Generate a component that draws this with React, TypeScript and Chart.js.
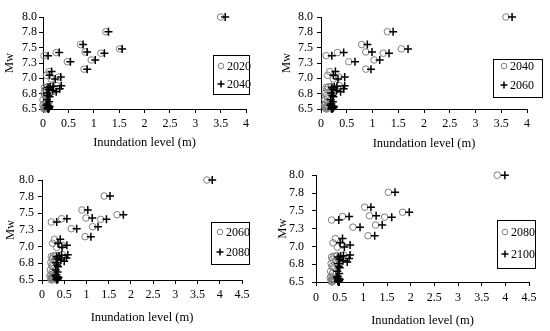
import React, { useEffect, useRef } from "react";
import { Chart, registerables } from "chart.js";

Chart.register(...registerables);

// ---- data ----
const YEARS = ["2020", "2040", "2060", "2080", "2100"];
const MW = [8.0, 7.76, 7.55, 7.43, 7.41, 7.48, 7.42, 7.37, 7.27, 7.3, 7.15, 7.11, 7.05, 7.02, 6.99,
  6.88, 6.87, 6.86, 6.85, 6.83, 6.82, 6.8, 6.78, 6.76, 6.72, 6.7, 6.65, 6.62, 6.58, 6.56, 6.55, 6.54, 6.53, 6.52, 6.51, 6.5];
const INUND_2020 = [3.5, 1.24, 0.74, 0.83, 1.14, 1.51, 0.26, 0.02, 0.48, 0.95, 0.81, 0.12, 0.07, 0.3, 0.16,
  0.28, 0.14, 0.08, 0.03, 0.24, 0.05, 0.12, 0.18, 0.02, 0.04, 0.08, 0.0, 0.06, 0.02, 0.0, 0.05, 0.08, 0.03, 0.06, 0.01, 0.04];
const INUND_2040 = [3.59, 1.29, 0.79, 0.87, 1.21, 1.56, 0.32, 0.1, 0.54, 1.03, 0.87, 0.17, 0.13, 0.35, 0.24,
  0.36, 0.2, 0.14, 0.1, 0.33, 0.12, 0.19, 0.26, 0.08, 0.1, 0.13, 0.08, 0.12, 0.09, 0.07, 0.11, 0.13, 0.1, 0.12, 0.09, 0.11];
const INUND_2060 = [3.71, 1.4, 0.9, 0.99, 1.32, 1.69, 0.44, 0.21, 0.66, 1.14, 0.97, 0.28, 0.24, 0.46, 0.33,
  0.46, 0.31, 0.26, 0.21, 0.44, 0.23, 0.3, 0.38, 0.2, 0.22, 0.24, 0.19, 0.23, 0.2, 0.18, 0.22, 0.25, 0.21, 0.24, 0.2, 0.22];
const INUND_2080 = [3.83, 1.53, 1.03, 1.13, 1.45, 1.83, 0.56, 0.33, 0.78, 1.26, 1.1, 0.41, 0.36, 0.56, 0.45,
  0.58, 0.44, 0.38, 0.33, 0.55, 0.35, 0.42, 0.5, 0.32, 0.34, 0.36, 0.31, 0.35, 0.32, 0.3, 0.34, 0.37, 0.33, 0.36, 0.32, 0.34];
const INUND_2100 = [3.99, 1.67, 1.16, 1.27, 1.6, 1.97, 0.7, 0.48, 0.93, 1.4, 1.24, 0.56, 0.51, 0.72, 0.6,
  0.72, 0.58, 0.52, 0.47, 0.7, 0.5, 0.57, 0.66, 0.47, 0.48, 0.5, 0.45, 0.49, 0.46, 0.44, 0.48, 0.5, 0.47, 0.49, 0.46, 0.48];
const INUND = [INUND_2020, INUND_2040, INUND_2060, INUND_2080, INUND_2100];
const Y_TICK_LABELS = ["6.5", "6.8", "7.0", "7.3", "7.5", "7.8", "8.0"];
const X_TICK_LABELS = ["0", "0.5", "1", "1.5", "2", "2.5", "3", "3.5", "4", "4.5"];
const X_TITLE = "Inundation level (m)";
const Y_TITLE = "Mw";

// ---- layout ----
const FONT_FAMILY = "'Liberation Serif', 'Times New Roman', serif";

type PanelCfg = {
  left: number; top: number; w: number; h: number;
  area: { l: number; t: number; r: number; b: number };
  xMax: number; yearA: number;
  xTitlePad: number; yTitlePad: number; yTickPad: number; xTickPad: number;
  legend: { x: number; y: number; w: number; h: number; mx: number; tx: number; y1: number; y2: number };
};

const PANELS: PanelCfg[] = [
  { left: 0, top: 0, w: 275, h: 160, area: { l: 43, t: 17, r: 246, b: 109 }, xMax: 4, yearA: 0,
    xTitlePad: 10, yTitlePad: 2, yTickPad: 2, xTickPad: 4,
    legend: { x: 213, y: 55, w: 36, h: 39, mx: 221, tx: 227, y1: 66, y2: 84 } },
  { left: 275, top: 0, w: 275, h: 160, area: { l: 46, t: 17, r: 252, b: 109 }, xMax: 4, yearA: 1,
    xTitlePad: 9, yTitlePad: 4, yTickPad: 4, xTickPad: 4,
    legend: { x: 218, y: 59, w: 49, h: 38, mx: 229, tx: 235, y1: 66, y2: 85 } },
  { left: 0, top: 160, w: 275, h: 171, area: { l: 42, t: 20, r: 242, b: 120 }, xMax: 4.5, yearA: 2,
    xTitlePad: 6, yTitlePad: 3, yTickPad: 4, xTickPad: 4,
    legend: { x: 211, y: 62, w: 38, h: 42, mx: 220, tx: 226, y1: 72, y2: 92 } },
  { left: 275, top: 160, w: 275, h: 171, area: { l: 41, t: 14, r: 254, b: 122 }, xMax: 4.5, yearA: 3,
    xTitlePad: 3, yTitlePad: 0, yTickPad: 8, xTickPad: 5,
    legend: { x: 222, y: 60, w: 38, h: 48, mx: 230, tx: 236, y1: 72, y2: 94 } },
];

const legendBoxPlugin = {
  id: "legendBox",
  afterDraw(chart: any, _args: any, opts: any) {
    const lg = opts.cfg;
    if (!lg) return;
    const ctx = chart.ctx as CanvasRenderingContext2D;
    const ds = chart.data.datasets;
    ctx.save();
    ctx.strokeStyle = "#000";
    ctx.lineWidth = 1;
    ctx.strokeRect(lg.x + 0.5, lg.y + 0.5, lg.w, lg.h);
    ctx.font = `12px ${FONT_FAMILY}`;
    ctx.fillStyle = "#000";
    ctx.textBaseline = "middle";
    ctx.textAlign = "left";
    // circle marker
    ctx.beginPath();
    ctx.strokeStyle = "#7f7f7f";
    ctx.arc(lg.mx, lg.y1, 2.8, 0, Math.PI * 2);
    ctx.stroke();
    ctx.fillText(ds[0].label, lg.tx, lg.y1 + 0.5);
    // plus marker
    ctx.beginPath();
    ctx.strokeStyle = "#000";
    ctx.lineWidth = 1.5;
    ctx.moveTo(lg.mx - 3.5, lg.y2);
    ctx.lineTo(lg.mx + 3.5, lg.y2);
    ctx.moveTo(lg.mx, lg.y2 - 3.5);
    ctx.lineTo(lg.mx, lg.y2 + 3.5);
    ctx.stroke();
    ctx.fillText(ds[1].label, lg.tx, lg.y2 + 0.5);
    ctx.restore();
  },
};

function Panel({ p }: { p: PanelCfg }) {
  const ref = useRef<HTMLCanvasElement>(null);
  useEffect(() => {
    if (!ref.current) return;
    const font = { family: FONT_FAMILY, size: 12 };
    const a = p.yearA;
    const b = p.yearA + 1;
    const chart = new Chart(ref.current, {
      type: "scatter",
      data: {
        datasets: [
          {
            label: YEARS[a],
            data: MW.map((m, i) => ({ x: INUND[a][i], y: m })),
            pointStyle: "circle",
            pointRadius: 3.3,
            borderColor: "#7f7f7f",
            backgroundColor: "rgba(0,0,0,0)",
            borderWidth: 1,
            clip: false as any,
            order: 2,
          },
          {
            label: YEARS[b],
            data: MW.map((m, i) => ({ x: INUND[b][i], y: m })),
            pointStyle: "cross",
            pointRadius: 4,
            borderColor: "#000",
            backgroundColor: "#000",
            borderWidth: 1.5,
            clip: false as any,
            order: 1,
          },
        ],
      },
      options: {
        responsive: false,
        animation: false,
        layout: { padding: { left: 0, top: p.area.t, right: p.w - p.area.r, bottom: 0 } },
        plugins: {
          legend: { display: false },
          tooltip: { enabled: false },
          legendBox: { cfg: p.legend },
        } as any,
        scales: {
          x: {
            type: "linear",
            min: 0,
            max: p.xMax,
            ticks: {
              stepSize: 0.5,
              autoSkip: false,
              maxRotation: 0,
              color: "#000",
              font,
              padding: p.xTickPad,
              callback: (v: any) => X_TICK_LABELS[Math.round(Number(v) * 2)],
            },
            grid: { display: true, drawOnChartArea: false, drawTicks: true, tickLength: 4, color: "#000" },
            border: { display: true, color: "#000", width: 1 },
            title: { display: true, text: X_TITLE, color: "#000", font: { family: FONT_FAMILY, size: 12.5 }, padding: { top: 0, bottom: p.xTitlePad } },
            afterFit: (s: any) => { s.height = p.h - p.area.b; },
          },
          y: {
            type: "linear",
            min: 6.5,
            max: 8.0,
            ticks: {
              stepSize: 0.25,
              autoSkip: false,
              color: "#000",
              font,
              padding: p.yTickPad,
              callback: (v: any) => Y_TICK_LABELS[Math.round((Number(v) - 6.5) * 4)],
            },
            grid: { display: true, drawOnChartArea: false, drawTicks: true, tickLength: 4, color: "#000" },
            border: { display: true, color: "#000", width: 1 },
            title: { display: true, text: Y_TITLE, color: "#000", font: { family: FONT_FAMILY, size: 12.5 }, padding: { top: p.yTitlePad, bottom: 0 } },
            afterFit: (s: any) => { s.width = p.area.l; },
          },
        },
      } as any,
      plugins: [legendBoxPlugin as any],
    });
    return () => chart.destroy();
  }, [p]);
  return (
    <div style={{ position: "absolute", left: p.left, top: p.top, width: p.w, height: p.h }}>
      <canvas ref={ref} width={p.w} height={p.h} style={{ width: p.w, height: p.h, display: "block" }} />
    </div>
  );
}

export default function App() {
  return (
    <div style={{ position: "absolute", left: 0, top: 0, width: 550, height: 331, background: "#fff" }}>
      {PANELS.map((p, i) => (
        <Panel key={i} p={p} />
      ))}
    </div>
  );
}
